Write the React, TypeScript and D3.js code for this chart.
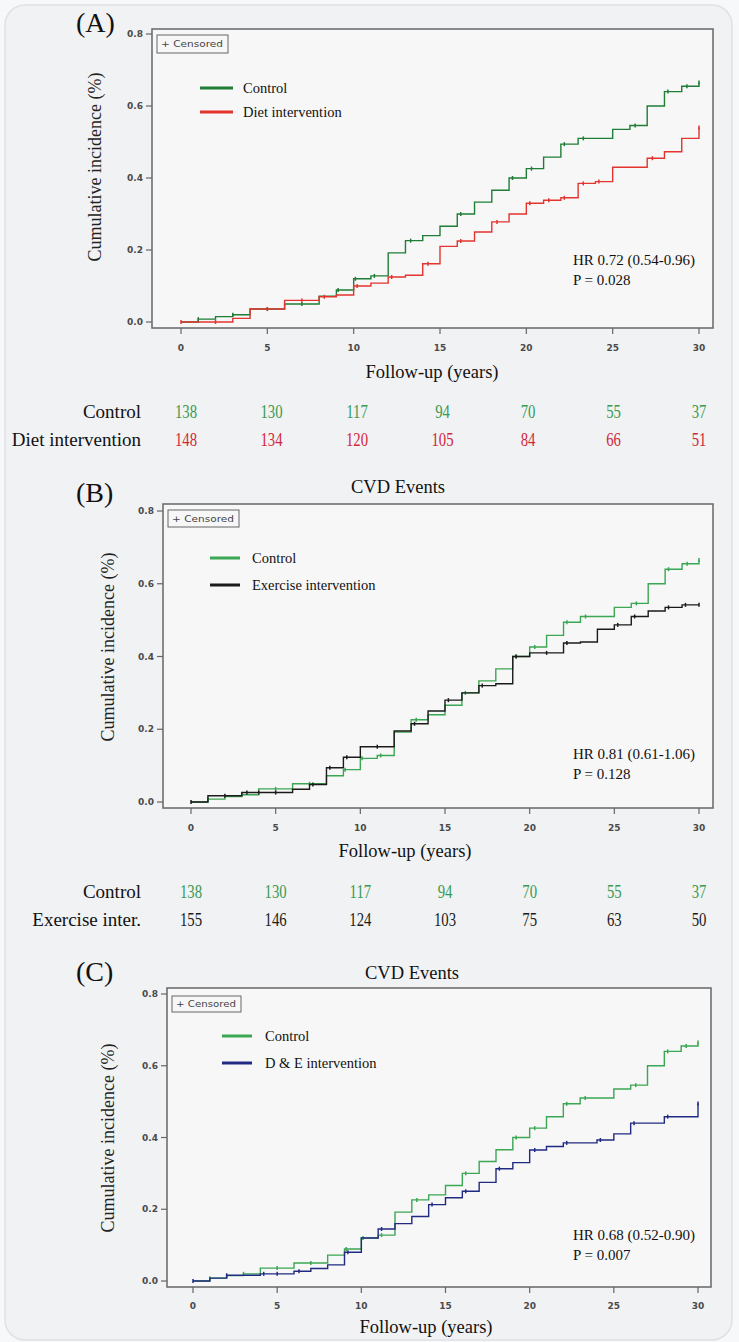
import React from "react";
import * as d3 from "d3";

// Follow-up years shown on the x axis and in the at-risk tables
const years = [0, 5, 10, 15, 20, 25, 30];
const yTicks = [0, 0.2, 0.4, 0.6, 0.8];

// Cumulative incidence step functions: [year, value after the step]
const controlSteps: [number, number][] = [
  [0, 0], [1, 0.008], [2, 0.015], [3, 0.02], [4, 0.036], [6, 0.05], [8, 0.072],
  [9, 0.089], [10, 0.12], [11, 0.128], [12, 0.192], [13, 0.226], [14, 0.24],
  [15, 0.266], [16, 0.3], [17, 0.333], [18, 0.366], [19, 0.4], [20, 0.426],
  [21, 0.458], [22, 0.494], [23, 0.51], [25, 0.535], [26, 0.546], [27, 0.6],
  [28, 0.64], [29, 0.655], [30, 0.665],
];
const dietSteps: [number, number][] = [
  [0, 0], [3, 0.01], [4, 0.036], [6, 0.06], [8, 0.07], [9, 0.075], [10, 0.1],
  [11, 0.108], [12, 0.125], [13, 0.13], [14, 0.162], [15, 0.21], [16, 0.225],
  [17, 0.25], [18, 0.278], [19, 0.3], [20, 0.33], [21, 0.338], [22, 0.345],
  [23, 0.385], [24, 0.39], [25, 0.43], [27, 0.455], [28, 0.473], [29, 0.51],
  [30, 0.54],
];
const exerciseSteps: [number, number][] = [
  [0, 0], [1, 0.017], [3, 0.026], [6, 0.035], [7, 0.048], [8, 0.094], [9, 0.123],
  [10, 0.152], [12, 0.195], [13, 0.215], [14, 0.25], [15, 0.28], [16, 0.3],
  [17, 0.32], [18, 0.325], [19, 0.4], [20, 0.41], [22, 0.437], [23, 0.44],
  [24, 0.475], [25, 0.487], [26, 0.51], [27, 0.525], [28, 0.535], [29, 0.542],
  [30, 0.542],
];
const dieExSteps: [number, number][] = [
  [0, 0], [1, 0.008], [2, 0.016], [4, 0.02], [6, 0.027], [7, 0.035], [8, 0.045],
  [9, 0.08], [10, 0.12], [11, 0.145], [12, 0.16], [13, 0.18], [14, 0.213],
  [15, 0.232], [16, 0.25], [17, 0.275], [18, 0.313], [19, 0.33], [20, 0.365],
  [21, 0.375], [22, 0.385], [24, 0.393], [25, 0.41], [26, 0.44], [28, 0.458],
  [30, 0.495],
];

// Censoring times (years) marked on each curve
const controlCensor = [1, 3, 5, 7, 9.1, 10.1, 11.2, 13.3, 16.2, 19.2, 20.3, 22.2, 23.3, 26.3, 28.2, 29.3, 30];
const dietCensor = [0, 2, 5, 7, 8.3, 10.2, 12.2, 14.3, 16.2, 18.3, 20.2, 21.3, 22.2, 23.3, 24.2, 27.3, 30];
const exerciseCensor = [0, 2, 3.3, 4, 5, 7.2, 8.2, 9.2, 11, 13.2, 15.2, 17.2, 19.2, 21, 22.2, 25.2, 26.2, 28.2, 29.2, 30];
const dieExCensor = [0, 2, 4.2, 5, 6.3, 9.2, 11.2, 14.2, 16.2, 18.2, 20.3, 22.2, 24.2, 26.2, 28.2, 30];

// Numbers at risk
const controlAtRisk = [138, 130, 117, 94, 70, 55, 37];
const dietAtRisk = [148, 134, 120, 105, 84, 66, 51];
const exerciseAtRisk = [155, 146, 124, 103, 75, 63, 50];

const SERIF = "'Liberation Serif', 'Times New Roman', serif";
const SANS = "'DejaVu Sans', Arial, sans-serif";

type Series = {
  name: string;
  steps: [number, number][];
  censor: number[];
  color: string;
};

type PanelSpec = {
  tag: string;
  tagPos: [number, number];
  title?: string;
  titlePos?: [number, number];
  frame: [number, number, number, number];
  xr: [number, number];
  yr: [number, number];
  tickBaseline: number;
  xLabelPos: [number, number];
  yLabelPos: [number, number];
  legend: { x1: number; x2: number; tx: number; ys: [number, number] };
  censored: [number, number, number, number];
  hr: string;
  p: string;
  hrPos: [number, number];
  series: Series[];
};

const lightGreen = "#3ba653";
const darkGreen = "#1f7d36";

const panels: PanelSpec[] = [
  {
    tag: "(A)",
    tagPos: [76, 32],
    frame: [152, 29, 713, 328],
    xr: [181, 699],
    yr: [322, 34],
    tickBaseline: 351,
    xLabelPos: [432, 378],
    yLabelPos: [97, 167],
    legend: { x1: 200, x2: 233, tx: 243, ys: [88, 112] },
    censored: [157, 35, 71, 18],
    hr: "HR 0.72 (0.54-0.96)",
    p: "P = 0.028",
    hrPos: [573, 265],
    series: [
      { name: "Control", steps: controlSteps, censor: controlCensor, color: darkGreen },
      { name: "Diet intervention", steps: dietSteps, censor: dietCensor, color: "#e3342f" },
    ],
  },
  {
    tag: "(B)",
    tagPos: [76, 502],
    title: "CVD Events",
    titlePos: [398, 493],
    frame: [163, 504, 713, 808],
    xr: [191, 699],
    yr: [802, 511],
    tickBaseline: 831,
    xLabelPos: [405, 857],
    yLabelPos: [110, 647],
    legend: { x1: 210, x2: 240, tx: 252, ys: [558, 585] },
    censored: [168, 510, 71, 17],
    hr: "HR 0.81 (0.61-1.06)",
    p: "P = 0.128",
    hrPos: [573, 759],
    series: [
      { name: "Control", steps: controlSteps, censor: controlCensor, color: lightGreen },
      { name: "Exercise intervention", steps: exerciseSteps, censor: exerciseCensor, color: "#1b1b1b" },
    ],
  },
  {
    tag: "(C)",
    tagPos: [76, 981],
    title: "CVD Events",
    titlePos: [412, 979],
    frame: [167, 988, 711, 1287],
    xr: [193, 698],
    yr: [1281, 994],
    tickBaseline: 1309,
    xLabelPos: [426, 1333],
    yLabelPos: [110, 1138],
    legend: { x1: 222, x2: 252, tx: 265, ys: [1036, 1063] },
    censored: [172, 996, 69, 16],
    hr: "HR 0.68 (0.52-0.90)",
    p: "P = 0.007",
    hrPos: [573, 1240],
    series: [
      { name: "Control", steps: controlSteps, censor: controlCensor, color: lightGreen },
      { name: "D & E intervention", steps: dieExSteps, censor: dieExCensor, color: "#202a82" },
    ],
  },
];

function stepValue(steps: [number, number][], t: number): number {
  let v = 0;
  for (const [x, y] of steps) if (x <= t) v = y;
  return v;
}

function Panel({ spec }: { spec: PanelSpec }) {
  const x = d3.scaleLinear().domain([0, 30]).range(spec.xr);
  const y = d3.scaleLinear().domain([0, 0.8]).range(spec.yr);
  const [fx1, fy1, fx2, fy2] = spec.frame;
  const line = d3
    .line<[number, number]>()
    .x((d) => x(d[0]))
    .y((d) => y(d[1]))
    .curve(d3.curveStepAfter);

  return (
    <g>
      <text x={spec.tagPos[0]} y={spec.tagPos[1]} fontFamily={SERIF} fontSize={28} fill="#111">
        {spec.tag}
      </text>
      {spec.title && (
        <text x={spec.titlePos![0]} y={spec.titlePos![1]} fontFamily={SERIF} fontSize={18.5} fill="#111" textAnchor="middle">
          {spec.title}
        </text>
      )}
      <rect x={fx1} y={fy1} width={fx2 - fx1} height={fy2 - fy1} fill="#f7f7f7" stroke="#6f6f6f" strokeWidth={1.6} />
      {/* y axis ticks */}
      {yTicks.map((t) => (
        <g key={"y" + t}>
          <line x1={fx1 - 6} x2={fx1} y1={y(t)} y2={y(t)} stroke="#666" strokeWidth={1.2} />
          <text x={fx1 - 9} y={y(t) + 3.2} fontFamily={SANS} fontWeight="bold" fontSize={9} fill="#4a4a4a" textAnchor="end">
            {t.toFixed(1)}
          </text>
        </g>
      ))}
      {/* x axis ticks */}
      {years.map((t) => (
        <g key={"x" + t}>
          <line x1={x(t)} x2={x(t)} y1={fy2} y2={fy2 + 6} stroke="#666" strokeWidth={1.2} />
          <text x={x(t)} y={spec.tickBaseline} fontFamily={SANS} fontWeight="bold" fontSize={9} fill="#4a4a4a" textAnchor="middle">
            {t}
          </text>
        </g>
      ))}
      <text x={spec.xLabelPos[0]} y={spec.xLabelPos[1]} fontFamily={SERIF} fontSize={18.5} fill="#111" textAnchor="middle">
        Follow-up (years)
      </text>
      <text
        transform={`translate(${spec.yLabelPos[0]},${spec.yLabelPos[1]}) rotate(-90)`}
        fontFamily={SERIF}
        fontSize={18}
        fill="#222"
        textAnchor="middle"
        dominantBaseline="middle"
      >
        Cumulative incidence (%)
      </text>
      {/* censored key */}
      <rect
        x={spec.censored[0]}
        y={spec.censored[1]}
        width={spec.censored[2]}
        height={spec.censored[3]}
        fill="#f7f7f7"
        stroke="#666"
        strokeWidth={1}
      />
      <text
        x={spec.censored[0] + 4}
        y={spec.censored[1] + spec.censored[3] / 2 + 3.3}
        fontFamily={SANS}
        fontSize={8.5}
        fill="#444"
        textLength={spec.censored[2] - 9}
        lengthAdjust="spacingAndGlyphs"
      >
        + Censored
      </text>
      {/* curves */}
      {spec.series.map((s) => {
        const pts = s.steps.slice();
        if (pts[pts.length - 1][0] < 30) pts.push([30, pts[pts.length - 1][1]]);
        return (
          <g key={s.name}>
            <path d={line(pts) || ""} fill="none" stroke={s.color} strokeWidth={1.4} />
            {s.censor.map((c, i) => {
              const v = stepValue(s.steps, c);
              return (
                <line key={i} x1={x(c)} x2={x(c)} y1={y(v) - 2} y2={y(v) + 2} stroke={s.color} strokeWidth={1.5} />
              );
            })}
          </g>
        );
      })}
      {/* legend */}
      {spec.series.map((s, i) => (
        <g key={"lg" + s.name}>
          <line x1={spec.legend.x1} x2={spec.legend.x2} y1={spec.legend.ys[i]} y2={spec.legend.ys[i]} stroke={s.color} strokeWidth={3} />
          <text x={spec.legend.tx} y={spec.legend.ys[i] + 5} fontFamily={SERIF} fontSize={14.5} fill="#111">
            {s.name}
          </text>
        </g>
      ))}
      <text x={spec.hrPos[0]} y={spec.hrPos[1]} fontFamily={SERIF} fontSize={15} fill="#111">
        {spec.hr}
      </text>
      <text x={spec.hrPos[0]} y={spec.hrPos[1] + 20} fontFamily={SERIF} fontSize={15} fill="#111">
        {spec.p}
      </text>
    </g>
  );
}

type RiskRow = { label: string; values: number[]; color: string };

function RiskTable({ rows, xr, ys }: { rows: RiskRow[]; xr: [number, number]; ys: number[] }) {
  const x = d3.scaleLinear().domain([0, 30]).range(xr);
  return (
    <g>
      {rows.map((r, i) => (
        <g key={r.label}>
          <text x={141} y={ys[i]} fontFamily={SERIF} fontSize={19} fill="#111" textAnchor="end">
            {r.label}
          </text>
          {r.values.map((v, j) => (
            <text
              key={j}
              transform={`translate(${x(years[j])},${ys[i]}) scale(0.82,1)`}
              fontFamily={SERIF}
              fontSize={18}
              fill={r.color}
              textAnchor="middle"
            >
              {v}
            </text>
          ))}
        </g>
      ))}
    </g>
  );
}

export default function App() {
  return (
    <div style={{ position: "absolute", left: 0, top: 0 }}>
      <svg width={739} height={1342} viewBox="0 0 739 1342" style={{ display: "block" }}>
        <rect x={0} y={0} width={739} height={1342} fill="#f7f8fa" />
        <rect x={5} y={5} width={727} height={1335} rx={20} fill="#f1f2f4" stroke="#dfe1e5" strokeWidth={1.5} />
        {panels.map((p) => (
          <Panel key={p.tag} spec={p} />
        ))}
        <RiskTable
          rows={[
            { label: "Control", values: controlAtRisk, color: "#3a9a52" },
            { label: "Diet intervention", values: dietAtRisk, color: "#d0283a" },
          ]}
          xr={[186, 699]}
          ys={[418, 446]}
        />
        <RiskTable
          rows={[
            { label: "Control", values: controlAtRisk, color: "#3a9a52" },
            { label: "Exercise inter.", values: exerciseAtRisk, color: "#1a1a1a" },
          ]}
          xr={[191, 699]}
          ys={[898, 926]}
        />
      </svg>
    </div>
  );
}
